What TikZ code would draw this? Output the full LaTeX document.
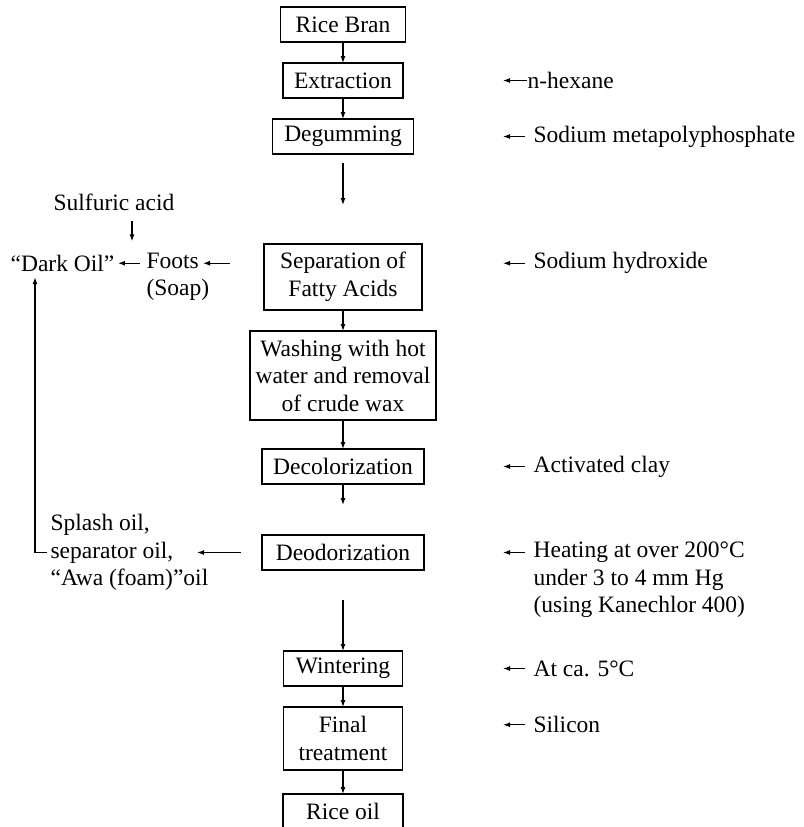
\documentclass[tikz,border=0pt]{standalone}
\usepackage{fontspec}
\setmainfont{Liberation Serif}
\usetikzlibrary{arrows.meta,positioning}

\begin{document}
\begin{tikzpicture}[
      block/.style={draw,line width=1.3pt,inner sep=2pt,outer sep=0pt,minimum height=35pt,align=center},
      note/.style={inner sep=0pt,anchor=west,align=left},
      every node/.style={font=\fontsize{23.5}{27.5}\selectfont},
      >={Latex[length=7pt,width=5pt]},
      line width=1.2pt
    ]
      \useasboundingbox (0,0) rectangle (803pt,-827pt);

      % main column
      \node[block,minimum width=125pt] (bran) at (343pt,-24.5pt) {Rice Bran};
      \node[block,minimum width=120pt,below=21pt of bran] (extr) {Extraction};
      \node[block,minimum width=141pt,below=21pt of extr] (degum) {Degumming};
      \node[block,minimum width=158pt,minimum height=66pt,below=90pt of degum] (sep) {Separation of\\Fatty Acids};
      \node[block,minimum width=186pt,minimum height=89pt,below=21pt of sep] (wash) {Washing with hot\\water and removal\\of crude wax};
      \node[block,minimum width=162pt,below=29pt of wash] (decol) {Decolorization};
      \node[block,minimum width=162pt,below=51pt of decol] (deodor) {Deodorization};
      \node[block,minimum width=119pt,below=81pt of deodor] (winter) {Wintering};
      \node[block,minimum width=119pt,minimum height=63pt,below=21pt of winter] (final) {Final\\treatment};
      \node[block,minimum width=120pt,below=24pt of final] (riceoil) {Rice oil};

      \draw[->] (bran) -- (extr);
      \draw[->] (extr) -- (degum);
      \draw[->,shorten <=9pt,shorten >=39pt] (degum) -- (sep);
      \draw[->] (sep) -- (wash);
      \draw[->] (wash) -- (decol);
      \draw[->,shorten >=30pt] (decol) -- (deodor);
      \draw[->,shorten <=30pt] (deodor) -- (winter);
      \draw[->] (winter) -- (final);
      \draw[->] (final) -- (riceoil);

      % additions on the right
      \coordinate (rcol) at (533pt,0);
      \node[note,xshift=-6pt] (hexane) at (rcol |- extr) {n-hexane};
      \node[note] (meta) at (rcol |- degum) {Sodium metapolyphosphate};
      \node[note,yshift=13.75pt] (hydrox) at (rcol |- sep) {Sodium hydroxide};
      \node[note] (clay) at (rcol |- decol) {Activated clay};
      \node[note,yshift=-27.5pt] (heat) at (rcol |- deodor) {Heating at over 200°C\\under 3 to 4 mm Hg\\(using Kanechlor 400)};
      \node[note] (cold) at (rcol |- winter) {At ca. 5°C};
      \node[note,yshift=13.75pt] (silicon) at (rcol |- final) {Silicon};

      \draw[->] (hexane.west) -- ([xshift=-24pt]hexane.west);
      \foreach \n in {meta,hydrox,clay,cold,silicon}
        \draw[->] ([xshift=-8pt]\n.west) -- ([xshift=-30pt]\n.west);
      \draw[->] ([xshift=-8pt]heat.west |- deodor) -- ([xshift=-30pt]heat.west |- deodor);

      % by-products on the left
      \coordinate (fcol) at (146pt,0);
      \coordinate (dcol) at (10pt,0);
      \coordinate (ocol) at (50pt,0);
      \node[note] (foots) at (fcol |- sep) {Foots\\(Soap)};
      \node[note,yshift=13.75pt] (dark) at (dcol |- sep) {“Dark Oil”};
      \node (acid) at (114pt,-202pt) {Sulfuric acid};
      \node[note] (oils) at (ocol |- deodor) {Splash oil,\\separator oil,\\“Awa (foam)”oil};
      \coordinate (footsIn) at ([xshift=57pt,yshift=13.75pt]foots.west);
      \coordinate (oilsIn) at ([xshift=147pt]oils.west);

      \draw[->,shorten <=34pt] (sep.west |- footsIn) -- (footsIn);
      \draw[->,shorten <=6pt,shorten >=3pt] (foots.west |- dark) -- (dark);
      \draw[->,shorten <=7pt,shorten >=13pt] ([xshift=18pt]acid.south) -- ([xshift=18pt]acid.south |- dark.north);
      \draw[->,shorten <=21pt] (deodor) -- (oilsIn);
      \draw[->,shorten >=5pt] ([xshift=-3pt]oils.west) -| ([xshift=25pt]dark.south west);
\end{tikzpicture}
\end{document}
